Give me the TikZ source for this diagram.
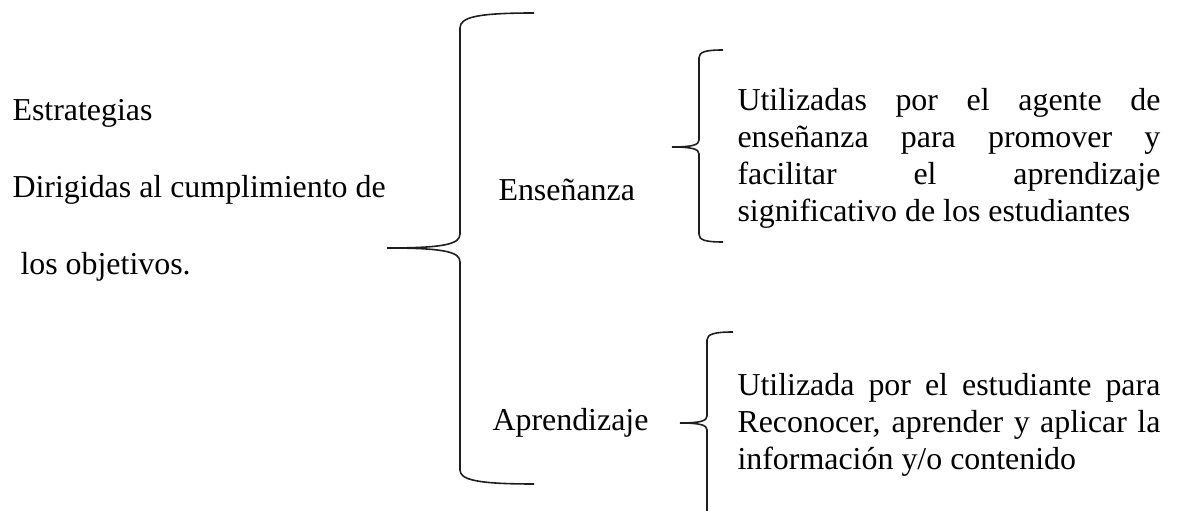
\documentclass[tikz,border=0pt]{standalone}
\usepackage{fontspec}
\setmainfont{Liberation Serif}
\usepackage{tikz}
\usetikzlibrary{positioning}
\definecolor{BraceColor}{RGB}{30,30,30}
\tikzset{
  % Plain one-line label
  tlabel/.style={
    anchor=west,
    inner sep=0pt,
    font=\fontsize{12}{13.8}\selectfont
  },
  % Justified description block
  para/.style={
    anchor=base west,
    inner sep=0pt,
    text width=159pt,
    align=justify,
    font=\fontsize{12}{13.8}\selectfont
  },
  % Curly brace stroke
  brace/.style={
    draw=BraceColor,
    line width=0.6pt
  }
}

\begin{document}
\begin{tikzpicture}[x=0.376pt, y=-0.376pt]
  \useasboundingbox (0,0) rectangle (1179,511);

  % Left column
  \node[tlabel] (estr) at (12,113) {Estrategias};
  \node[tlabel] (dirig) at (12,190) {Dirigidas al cumplimiento de};
  \node[tlabel] (obj) at (12,267) {\ los objetivos.};

  % Big brace
  \coordinate (tipA) at (387,248);
  \draw[brace] (534,13) .. controls (478,13) and (460,17) .. (460,28)
    -- (460,234) .. controls (460,244) and (445,248) .. (tipA);
  \draw[brace] (tipA) .. controls (445,248) and (460,252) .. (460,262)
    -- (460,470) .. controls (460,480) and (478,484) .. (534,484);

  % Middle column
  \node[tlabel] (ens) at (498,190) {Enseñanza};
  \node[tlabel] (apr) at (492,423) {Aprendizaje};

  % Brace for Enseñanza
  \coordinate (tipB) at (672,147);
  \draw[brace] (723,50) .. controls (705,50) and (699,52) .. (699,58)
    -- (699,140) .. controls (699,145) and (692,147) .. (tipB);
  \draw[brace] (tipB) .. controls (692,147) and (699,149) .. (699,154)
    -- (699,234) .. controls (699,240) and (705,242) .. (723,242);

  % Brace for Aprendizaje
  \coordinate (tipC) at (680,423);
  \draw[brace] (733,332) .. controls (715,332) and (707,334) .. (707,340)
    -- (707,416) .. controls (707,421) and (700,423) .. (tipC);
  \draw[brace] (tipC) .. controls (700,423) and (707,425) .. (707,430)
    -- (707,520);

  % Descriptions
  \node[para] (ensdesc) at (737,111) {Utilizadas por el agente de\linebreak
    enseñanza para promover y\linebreak
    facilitar el aprendizaje\linebreak
    significativo de los estudiantes};
  \node[para] (aprdesc) at (737,396) {Utilizada por el estudiante para\linebreak
    Reconocer, aprender y aplicar la\linebreak
    información y/o contenido};
\end{tikzpicture}
\end{document}
